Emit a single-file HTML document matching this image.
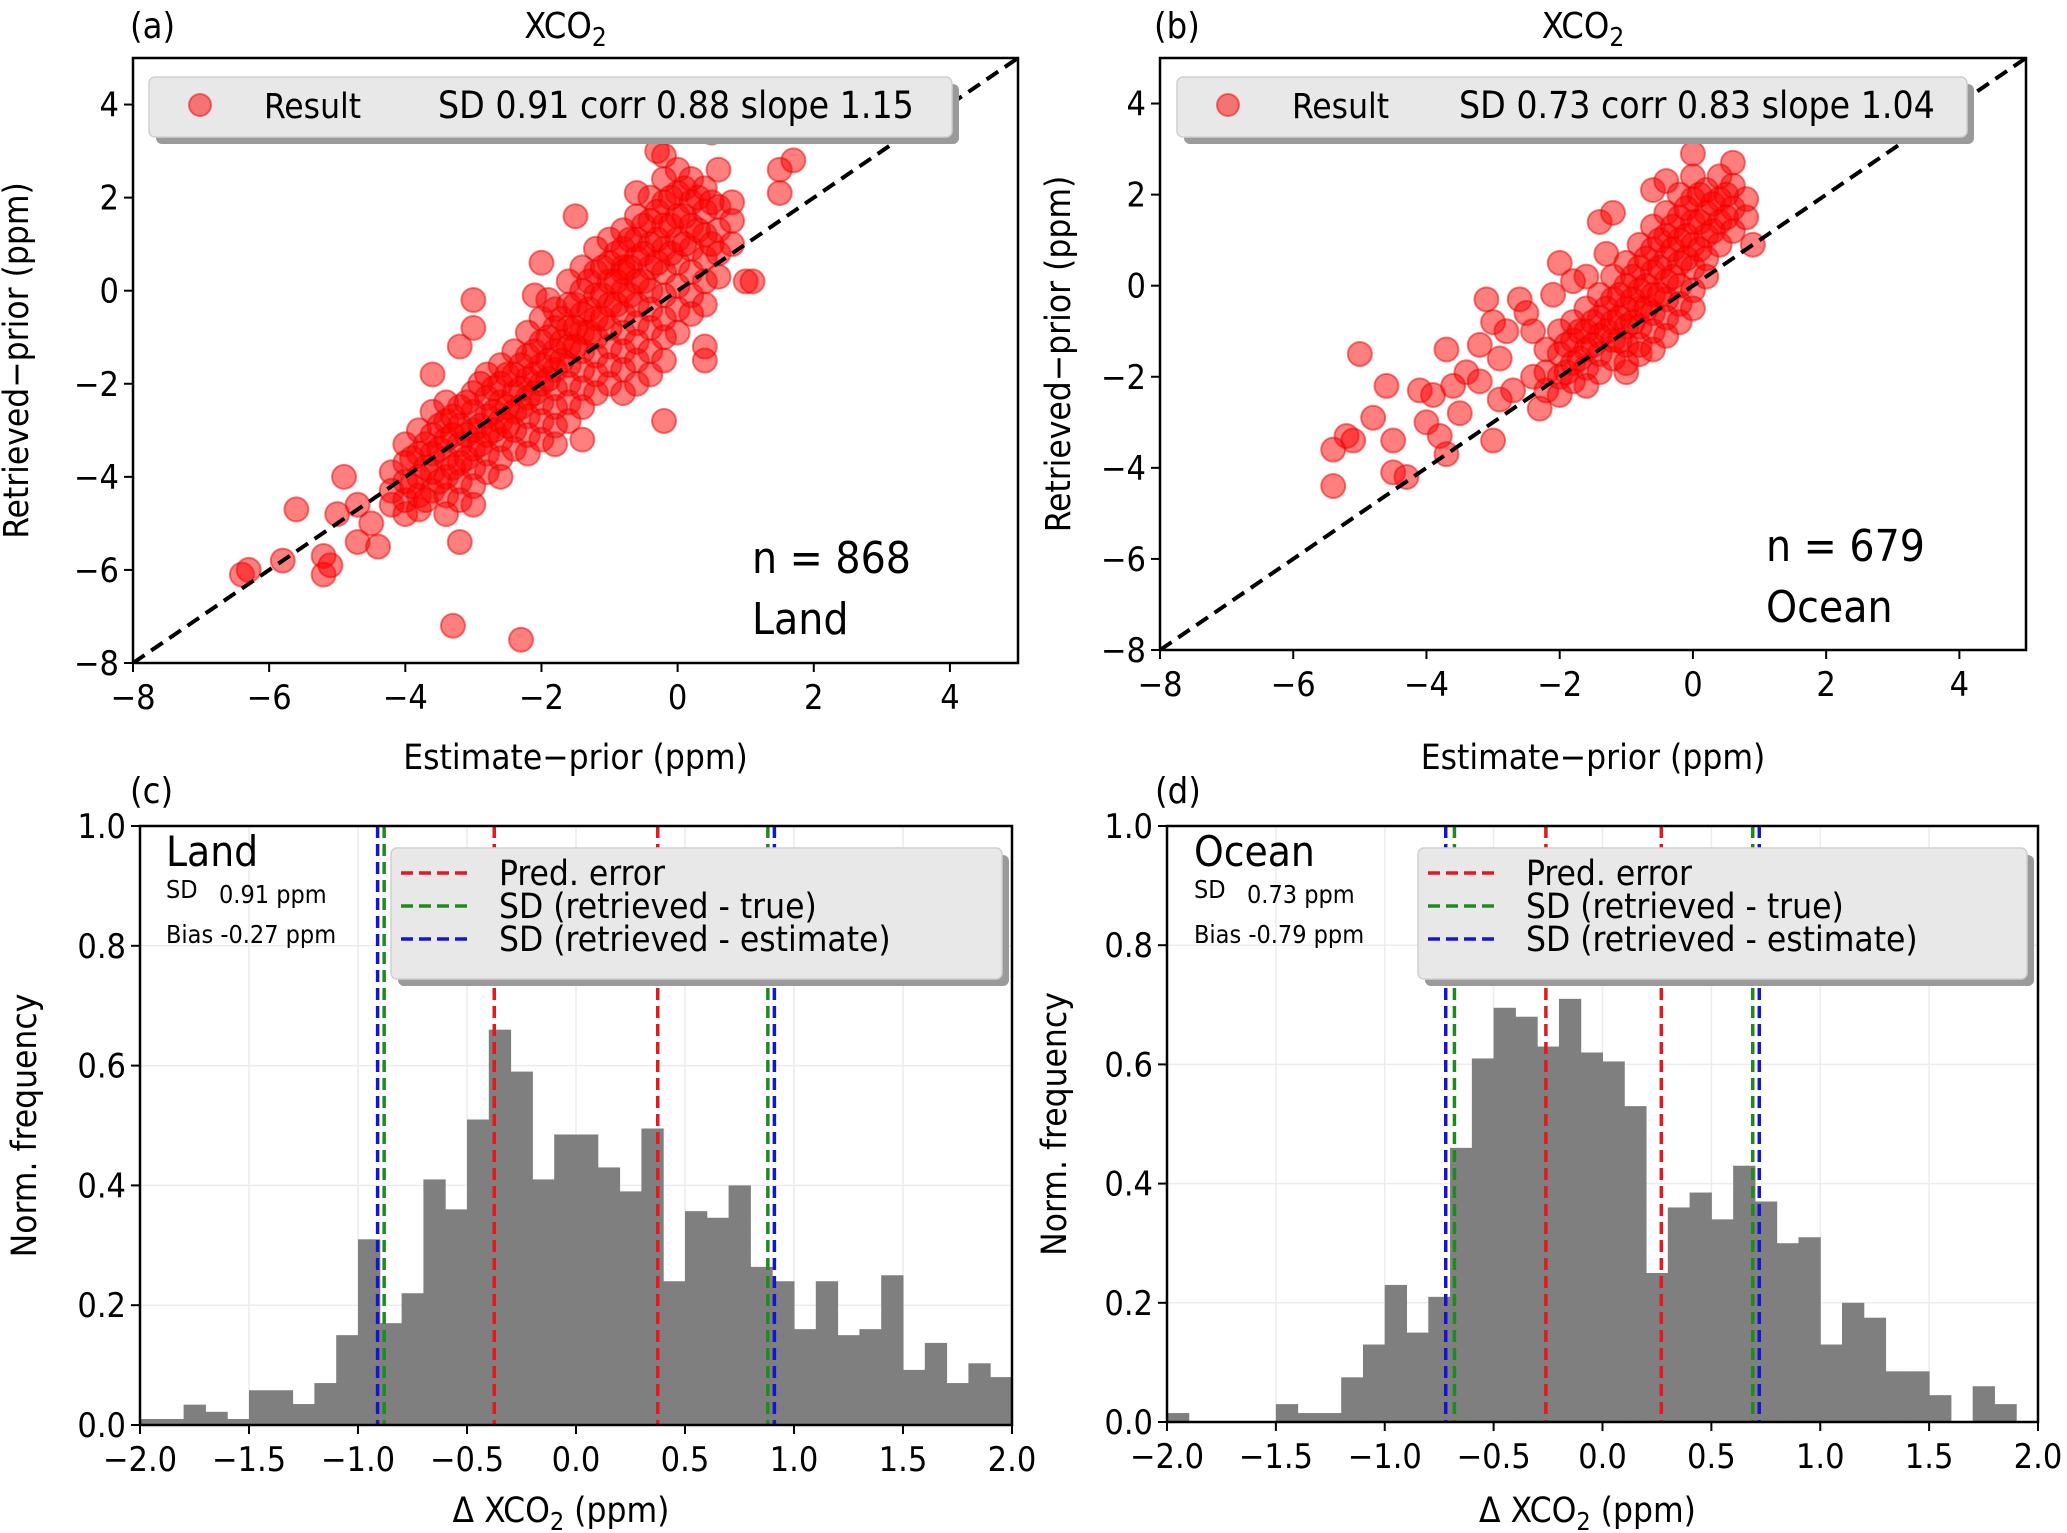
<!DOCTYPE html>
<html><head><meta charset="utf-8">
<style>
body{margin:0;background:#fff;}
svg{display:block;font-family:"DejaVu Sans Condensed","DejaVu Sans","Liberation Sans",sans-serif;}
</style></head>
<body>
<svg id="fig" width="2067" height="1533" viewBox="0 0 2067 1533"></svg>
<script>
// ---------- data ----------
const landPoints = [
[-6.4,-6.1],[-6.3,-6.0],[-5.8,-5.8],[-5.6,-4.7],[-5.2,-5.7],[-5.2,-6.1],[-5.1,-5.9],[-5.0,-4.8],[-4.9,-4.0],[-4.7,-4.6],[-4.7,-5.4],[-4.4,-5.5],[-4.5,-5.0],[-3.3,-7.2],[-2.3,-7.5],[-3.2,-5.4],[-0.2,-2.8],[1.0,0.2],[1.1,0.2],[1.5,2.1],[1.5,2.6],[1.7,2.8],[-1.5,1.6],[-0.6,2.1],[0.5,3.4],[-2.0,0.6],[-2.1,-0.1],[-1.9,-0.2],[-3.0,-0.2],[-3.0,-0.8],[-3.2,-1.2],[-0.8,0.5],[0.4,-1.5],[-0.3,3.0],
[-4.2,-3.9],[-4.2,-4.3],[-4.2,-4.6],
[-4.0,-3.7],[-4.0,-4.1],[-4.0,-4.5],[-4.0,-4.8],[-4.0,-3.3],
[-3.8,-3.0],[-3.8,-3.5],[-3.8,-4.0],[-3.8,-4.4],[-3.8,-4.7],
[-3.6,-2.6],[-3.6,-3.1],[-3.6,-3.5],[-3.6,-3.9],[-3.6,-4.3],[-3.6,-1.8],
[-3.4,-2.8],[-3.4,-3.2],[-3.4,-3.6],[-3.4,-4.0],[-3.4,-4.4],[-3.4,-4.8],[-3.4,-2.4],
[-3.2,-2.5],[-3.2,-2.9],[-3.2,-3.3],[-3.2,-3.7],[-3.2,-4.1],[-3.2,-4.5],
[-3.0,-2.2],[-3.0,-2.6],[-3.0,-3.0],[-3.0,-3.4],[-3.0,-3.8],[-3.0,-4.2],[-3.0,-4.6],
[-2.8,-1.8],[-2.8,-2.3],[-2.8,-2.7],[-2.8,-3.1],[-2.8,-3.5],[-2.8,-3.9],
[-2.6,-1.6],[-2.6,-2.0],[-2.6,-2.4],[-2.6,-2.8],[-2.6,-3.2],[-2.6,-3.6],[-2.6,-4.0],
[-2.4,-1.3],[-2.4,-1.8],[-2.4,-2.2],[-2.4,-2.6],[-2.4,-3.0],[-2.4,-3.4],
[-2.2,-0.9],[-2.2,-1.4],[-2.2,-1.9],[-2.2,-2.3],[-2.2,-2.7],[-2.2,-3.1],[-2.2,-3.5],
[-2.0,-0.6],[-2.0,-1.1],[-2.0,-1.6],[-2.0,-2.0],[-2.0,-2.4],[-2.0,-2.8],[-2.0,-3.2],
[-1.8,-0.4],[-1.8,-0.8],[-1.8,-1.3],[-1.8,-1.7],[-1.8,-2.1],[-1.8,-2.5],[-1.8,-2.9],[-1.8,-3.3],
[-1.6,0.2],[-1.6,-0.3],[-1.6,-0.8],[-1.6,-1.2],[-1.6,-1.6],[-1.6,-2.0],[-1.6,-2.4],[-1.6,-2.8],
[-1.4,0.5],[-1.4,0.0],[-1.4,-0.5],[-1.4,-0.9],[-1.4,-1.3],[-1.4,-1.7],[-1.4,-2.1],[-1.4,-2.5],[-1.4,-3.2],
[-1.2,0.9],[-1.2,0.4],[-1.2,-0.1],[-1.2,-0.6],[-1.2,-1.0],[-1.2,-1.4],[-1.2,-1.8],[-1.2,-2.2],
[-1.0,1.1],[-1.0,0.6],[-1.0,0.2],[-1.0,-0.3],[-1.0,-0.8],[-1.0,-1.2],[-1.0,-1.6],[-1.0,-2.0],
[-0.8,1.3],[-0.8,0.9],[-0.8,0.4],[-0.8,0.0],[-0.8,-0.5],[-0.8,-0.9],[-0.8,-1.3],[-0.8,-1.7],[-0.8,-2.2],
[-0.6,1.6],[-0.6,1.1],[-0.6,0.7],[-0.6,0.2],[-0.6,-0.3],[-0.6,-0.7],[-0.6,-1.1],[-0.6,-1.5],[-0.6,-2.0],
[-0.4,2.0],[-0.4,1.5],[-0.4,1.0],[-0.4,0.5],[-0.4,0.0],[-0.4,-0.4],[-0.4,-0.8],[-0.4,-1.3],[-0.4,-1.8],
[-0.2,2.4],[-0.2,1.9],[-0.2,1.4],[-0.2,0.9],[-0.2,0.4],[-0.2,-0.1],[-0.2,-0.6],[-0.2,-1.0],[-0.2,-1.5],[-0.2,2.9],
[0.0,2.6],[0.0,2.1],[0.0,1.6],[0.0,1.1],[0.0,0.6],[0.0,0.1],[0.0,-0.4],[0.0,-0.9],
[0.2,2.4],[0.2,1.9],[0.2,1.4],[0.2,0.9],[0.2,0.4],[0.2,-0.1],[0.2,-0.5],
[0.4,2.2],[0.4,1.7],[0.4,1.2],[0.4,0.7],[0.4,0.2],[0.4,-0.3],[0.4,-1.2],
[0.6,2.6],[0.6,1.8],[0.6,1.3],[0.6,0.8],[0.6,0.3],
[0.8,1.5],[0.8,1.0],[0.8,1.9],
[-3.9,-3.6],[-3.9,-4.2],[-3.7,-3.3],[-3.7,-3.8],[-3.7,-4.5],[-3.5,-2.9],[-3.5,-3.4],[-3.5,-4.1],[-3.3,-2.7],[-3.3,-3.1],[-3.3,-3.8],[-3.1,-2.4],[-3.1,-3.1],[-3.1,-3.6],[-2.9,-2.0],[-2.9,-2.9],[-2.9,-3.3],[-2.7,-2.1],[-2.7,-2.6],[-2.7,-3.0],[-2.5,-1.8],[-2.5,-2.5],[-2.5,-2.9],[-2.3,-1.6],[-2.3,-2.1],[-2.3,-2.5],[-2.1,-1.3],[-2.1,-1.8],[-2.1,-2.2],[-1.9,-1.0],[-1.9,-1.5],[-1.9,-1.9],[-1.7,-0.6],[-1.7,-1.1],[-1.7,-1.5],[-1.5,-0.3],[-1.5,-0.8],[-1.5,-1.2],[-1.3,0.2],[-1.3,-0.4],[-1.3,-0.9],[-1.1,0.5],[-1.1,-0.1],[-1.1,-0.6],[-0.9,0.8],[-0.9,0.2],[-0.9,-0.3],[-0.7,1.1],[-0.7,0.5],[-0.7,-0.1],[-0.5,1.4],[-0.5,0.8],[-0.5,0.2],[-0.3,1.7],[-0.3,1.1],[-0.3,0.6],[-0.1,2.0],[-0.1,1.4],[-0.1,0.8],[0.1,2.2],[0.1,1.6],[0.1,1.0],[0.3,2.0],[0.3,1.3],[0.5,1.9],[0.5,1.0]
];
const oceanPoints = [
[-5.0,-1.5],[-4.6,-2.2],[-4.8,-2.9],[-5.2,-3.3],[-5.1,-3.4],[-5.4,-3.6],[-5.4,-4.4],[-4.5,-3.4],[-4.5,-4.1],[-4.3,-4.2],[-4.1,-2.3],[-4.0,-3.0],[-3.9,-2.4],[-3.8,-3.3],[-3.7,-3.7],[-3.6,-2.2],[-3.7,-1.4],[-3.5,-2.8],[-3.4,-1.9],[-3.2,-1.3],[-3.2,-2.1],[-3.0,-3.4],[-3.1,-0.3],[-3.0,-0.8],[-2.9,-1.6],[-2.8,-1.0],[-2.7,-2.3],[-2.6,-0.3],[-2.5,-0.6],[-2.4,-1.0],[-2.4,-2.0],[-2.3,-2.7],[-2.2,-1.4],[-2.1,-0.2],[-2.0,0.5],[-1.8,0.1],[-1.6,0.2],[-1.4,1.4],[-1.3,0.7],[-1.2,1.6],[0.0,2.9],[0.6,2.7],[0.9,0.9],[-1.0,-1.9],[-2.9,-2.5],
[-2.2,-1.9],[-2.2,-2.3],
[-2.0,-1.0],[-2.0,-1.5],[-2.0,-2.0],[-2.0,-2.4],
[-1.8,-0.8],[-1.8,-1.2],[-1.8,-1.7],[-1.8,-2.1],
[-1.6,-0.5],[-1.6,-1.0],[-1.6,-1.4],[-1.6,-1.8],[-1.6,-2.2],
[-1.4,-0.2],[-1.4,-0.7],[-1.4,-1.1],[-1.4,-1.5],[-1.4,-1.9],
[-1.2,0.2],[-1.2,-0.3],[-1.2,-0.8],[-1.2,-1.2],[-1.2,-1.6],
[-1.0,0.5],[-1.0,0.0],[-1.0,-0.5],[-1.0,-0.9],[-1.0,-1.3],[-1.0,-1.7],
[-0.8,0.9],[-0.8,0.4],[-0.8,-0.1],[-0.8,-0.5],[-0.8,-0.9],[-0.8,-1.3],[-0.8,-1.5],
[-0.6,1.3],[-0.6,0.8],[-0.6,0.3],[-0.6,-0.2],[-0.6,-0.6],[-0.6,-1.0],[-0.6,-1.4],[-0.6,2.1],
[-0.4,1.6],[-0.4,1.1],[-0.4,0.6],[-0.4,0.1],[-0.4,-0.3],[-0.4,-0.7],[-0.4,-1.1],[-0.4,2.3],
[-0.2,2.0],[-0.2,1.5],[-0.2,1.0],[-0.2,0.5],[-0.2,0.0],[-0.2,-0.4],[-0.2,-0.8],
[0.0,2.4],[0.0,1.9],[0.0,1.4],[0.0,0.9],[0.0,0.4],[0.0,-0.1],[0.0,-0.5],
[0.2,2.1],[0.2,1.6],[0.2,1.1],[0.2,0.6],[0.2,0.2],
[0.4,2.4],[0.4,1.9],[0.4,1.4],[0.4,0.9],
[0.6,2.2],[0.6,1.7],[0.6,1.2],
[0.8,1.9],[0.8,1.5],
[-1.9,-1.3],[-1.9,-1.9],[-1.7,-1.0],[-1.7,-1.6],[-1.5,-0.8],[-1.5,-1.3],[-1.3,-0.5],[-1.3,-1.0],[-1.1,-0.2],[-1.1,-0.7],[-1.1,-1.2],[-0.9,0.2],[-0.9,-0.3],[-0.9,-0.8],[-0.7,0.6],[-0.7,0.0],[-0.7,-0.5],[-0.5,1.0],[-0.5,0.4],[-0.5,-0.2],[-0.3,1.3],[-0.3,0.8],[-0.3,0.2],[-0.1,1.7],[-0.1,1.1],[-0.1,0.6],[0.1,2.0],[0.1,1.4],[0.1,0.8],[0.3,1.8],[0.3,1.2],[0.5,2.0],[0.5,1.5]
];
const binEdgesStart = -2.0;
const binWidth = 0.1;
const landHist = [0.01,0.01,0.034,0.022,0.01,0.058,0.058,0.035,0.07,0.15,0.31,0.17,0.22,0.41,0.36,0.51,0.66,0.59,0.41,0.485,0.485,0.43,0.39,0.495,0.24,0.357,0.346,0.40,0.264,0.24,0.16,0.24,0.15,0.16,0.25,0.092,0.137,0.07,0.103,0.08];
const oceanHist = [0.015,0,0,0,0,0.03,0.015,0.015,0.075,0.13,0.23,0.15,0.21,0.46,0.61,0.695,0.68,0.63,0.71,0.62,0.605,0.53,0.25,0.36,0.385,0.34,0.43,0.37,0.3,0.31,0.13,0.2,0.175,0.085,0.085,0.045,0,0.06,0.03,0];
const landLines = {red:[-0.375,0.375], green:[-0.88,0.88], blue:[-0.91,0.91]};
const oceanLines = {red:[-0.26,0.27], green:[-0.68,0.69], blue:[-0.72,0.72]};
const scatterTicks = [-8,-6,-4,-2,0,2,4];
const histXTicks = [-2.0,-1.5,-1.0,-0.5,0.0,0.5,1.0,1.5,2.0];
const histYTicks = [0.0,0.2,0.4,0.6,0.8,1.0];

// ---------- helpers ----------
const NS='http://www.w3.org/2000/svg';
const svg=document.getElementById('fig');
function mk(tag,attrs,parent,text){
  const e=document.createElementNS(NS,tag);
  for(const k in attrs)e.setAttribute(k,attrs[k]);
  if(text!==undefined)e.textContent=text;
  (parent||svg).appendChild(e);return e;
}
function label(x,y,txt,size,anchor,name,extra){
  const t=mk('text',Object.assign({x:x,y:y,'font-size':size,'text-anchor':anchor||'start',fill:'#000'},extra||{}),svg,txt);
  
  
  return t;
}
function fmt(v){const s=v.toFixed(1);return v<0?'\u2212'+s.slice(1):s;}
function fmtI(v){return v<0?'\u2212'+Math.abs(v):String(v);}

// ---------- scatter panel ----------
function scatter(box,pts,info){
  const sx=v=>box.x0+(v+8)/13*(box.x1-box.x0);
  const sy=v=>box.y1-(v+8)/13*(box.y1-box.y0);
  const g=mk('g',{});
  
  
  const clip=mk('clipPath',{id:info.prefix+'clip'},g);
  mk('rect',{x:box.x0,y:box.y0,width:box.x1-box.x0,height:box.y1-box.y0},clip);
  const pg=mk('g',{'clip-path':'url(#'+info.prefix+'clip)'},g);
  pts.forEach(p=>{
    const c=mk('circle',{cx:sx(p[0]),cy:sy(p[1]),r:12,fill:'rgba(255,0,0,0.5)',stroke:'rgba(235,0,0,0.5)','stroke-width':2},pg);
    
    
  });
  const dl=mk('line',{x1:sx(-8),y1:sy(-8),x2:sx(5),y2:sy(5),stroke:'#000','stroke-width':4,'stroke-dasharray':'14 8'},pg);
  
  
  const fr=mk('rect',{x:box.x0,y:box.y0,width:box.x1-box.x0,height:box.y1-box.y0,fill:'none',stroke:'#000','stroke-width':2.5},g);
  
  
  scatterTicks.forEach(v=>{
    mk('line',{x1:sx(v),y1:box.y1,x2:sx(v),y2:box.y1+9,stroke:'#000','stroke-width':2},g);
    label(sx(v),box.y1+46,fmtI(v),34,'middle','x-tick-label');
    mk('line',{x1:box.x0-9,y1:sy(v),x2:box.x0,y2:sy(v),stroke:'#000','stroke-width':2},g);
    label(box.x0-14,sy(v)+12,fmtI(v),34,'end','y-tick-label');
  });
  const L=info.legend;
  mk('rect',{x:L.x+7,y:L.y+7,width:L.w,height:L.h,rx:6,fill:'#9a9a9a'},g);
  const lb=mk('rect',{x:L.x,y:L.y,width:L.w,height:L.h,rx:6,fill:'#e8e8e8',stroke:'#cfcfcf','stroke-width':1.5},g);
  
  
  mk('circle',{cx:L.x+51,cy:L.y+28,r:11,fill:'rgba(255,0,0,0.5)',stroke:'rgba(235,0,0,0.5)','stroke-width':2},g);
  label(L.x+115,L.y+41,'Result',35,'start','legend-entry');
  label(L.tx,L.y+41,info.stats,37,'start','legend-stats');
  label(info.nx,info.ny,info.n,44,'start','sample-count');
  label(info.nx,info.ny+61,info.region,44,'start','region-label');
  const tt=label((box.x0+box.x1)/2-10,38,'XCO',36,'middle','chart-title');
  mk('tspan',{'font-size':26,dy:8},tt,'2');
  label(info.px,38,info.panel,36,'start','panel-label');
  label((box.x0+box.x1)/2,769,'Estimate\u2212prior (ppm)',35,'middle','x-axis-title');
  label(0,0,'Retrieved\u2212prior (ppm)',35,'middle','y-axis-title',{transform:'translate('+info.ylx+','+((box.y0+box.y1)/2)+') rotate(-90)'});
}

// ---------- histogram panel ----------
function hist(box,vals,lines,info){
  const sx=v=>box.x0+(v+2)/4*(box.x1-box.x0);
  const sy=v=>box.y1-v*(box.y1-box.y0);
  const g=mk('g',{});
  
  
  histXTicks.forEach(v=>mk('line',{x1:sx(v),y1:box.y0,x2:sx(v),y2:box.y1,stroke:'#ececec','stroke-width':1.5},g));
  histYTicks.forEach(v=>mk('line',{x1:box.x0,y1:sy(v),x2:box.x1,y2:sy(v),stroke:'#ececec','stroke-width':1.5},g));
  vals.forEach((h,i)=>{
    const a=binEdgesStart+i*binWidth;
    if(h<=0)return;
    const r=mk('rect',{x:sx(a),y:sy(h),width:sx(a+binWidth)-sx(a)+0.5,height:sy(0)-sy(h),fill:'#7f7f7f'},g);
    
    
  });
  const cols={red:'#e3191c',green:'#208a20',blue:'#1515d0'};
  ['green','blue','red'].forEach(k=>lines[k].forEach(v=>{
    const l=mk('line',{x1:sx(v),y1:box.y0,x2:sx(v),y2:box.y1,stroke:cols[k],'stroke-width':3.5,'stroke-dasharray':'12 6'},g);
    
    
  }));
  const fr=mk('rect',{x:box.x0,y:box.y0,width:box.x1-box.x0,height:box.y1-box.y0,fill:'none',stroke:'#000','stroke-width':2.5},g);
  
  
  histXTicks.forEach(v=>{
    mk('line',{x1:sx(v),y1:box.y1,x2:sx(v),y2:box.y1+9,stroke:'#000','stroke-width':2},g);
    label(sx(v),box.y1+46,fmt(v),34,'middle','x-tick-label');
  });
  histYTicks.forEach(v=>{
    mk('line',{x1:box.x0-9,y1:sy(v),x2:box.x0,y2:sy(v),stroke:'#000','stroke-width':2},g);
    label(box.x0-14,sy(v)+12,fmt(v),34,'end','y-tick-label');
  });
  const L=info.legend;
  mk('rect',{x:L.x+7,y:L.y+7,width:L.w,height:L.h,rx:6,fill:'#9a9a9a'},g);
  const lb=mk('rect',{x:L.x,y:L.y,width:L.w,height:L.h,rx:6,fill:'#e8e8e8',stroke:'#cfcfcf','stroke-width':1.5},g);
  
  
  const ent=[['red','Pred. error'],['green','SD (retrieved - true)'],['blue','SD (retrieved - estimate)']];
  ent.forEach((e,i)=>{
    const y=L.y+25+i*33;
    mk('line',{x1:L.x+10,y1:y,x2:L.x+80,y2:y,stroke:cols[e[0]],'stroke-width':3.5,'stroke-dasharray':'12 6'},g);
    label(L.x+108,y+12,e[1],35,'start','legend-entry');
  });
  label(info.tx,866,info.region,42,'start','region-label');
  label(info.tx,898,'SD',25,'start','sd-label');
  label(info.tx+53,903,info.sd,25,'start','sd-value');
  label(info.tx,943,info.bias,25,'start','bias-label');
  label(info.px,803,info.panel,36,'start','panel-label');
  const xt=label((box.x0+box.x1)/2-15,1522,'\u0394 XCO',35,'middle','x-axis-title');
  mk('tspan',{'font-size':25,dy:8},xt,'2');
  mk('tspan',{dy:-8},xt,' (ppm)');
  label(0,0,'Norm. frequency',35,'middle','y-axis-title',{transform:'translate('+info.ylx+','+((box.y0+box.y1)/2)+') rotate(-90)'});
}

scatter({x0:133,x1:1018,y0:58,y1:663},landPoints,{prefix:'land',legend:{x:149,y:77,w:803,h:60,tx:438},stats:'SD 0.91 corr 0.88 slope 1.15',n:'n = 868',region:'Land',nx:752,ny:573,px:130,panel:'(a)',ylx:28});
scatter({x0:1160,x1:2026,y0:58,y1:650},oceanPoints,{prefix:'ocean',legend:{x:1177,y:77,w:790,h:60,tx:1459},stats:'SD 0.73 corr 0.83 slope 1.04',n:'n = 679',region:'Ocean',nx:1766,ny:561,px:1154,panel:'(b)',ylx:1070});
hist({x0:140,x1:1012,y0:826,y1:1425},landHist,landLines,{prefix:'land',legend:{x:391,y:848,w:611,h:131},region:'Land',sd:'0.91 ppm',bias:'Bias -0.27 ppm',tx:166,px:130,panel:'(c)',ylx:36});
hist({x0:1167,x1:2038,y0:826,y1:1422},oceanHist,oceanLines,{prefix:'ocean',legend:{x:1418,y:848,w:609,h:131},region:'Ocean',sd:'0.73 ppm',bias:'Bias -0.79 ppm',tx:1194,px:1155,panel:'(d)',ylx:1066});
</script>
</body></html>
